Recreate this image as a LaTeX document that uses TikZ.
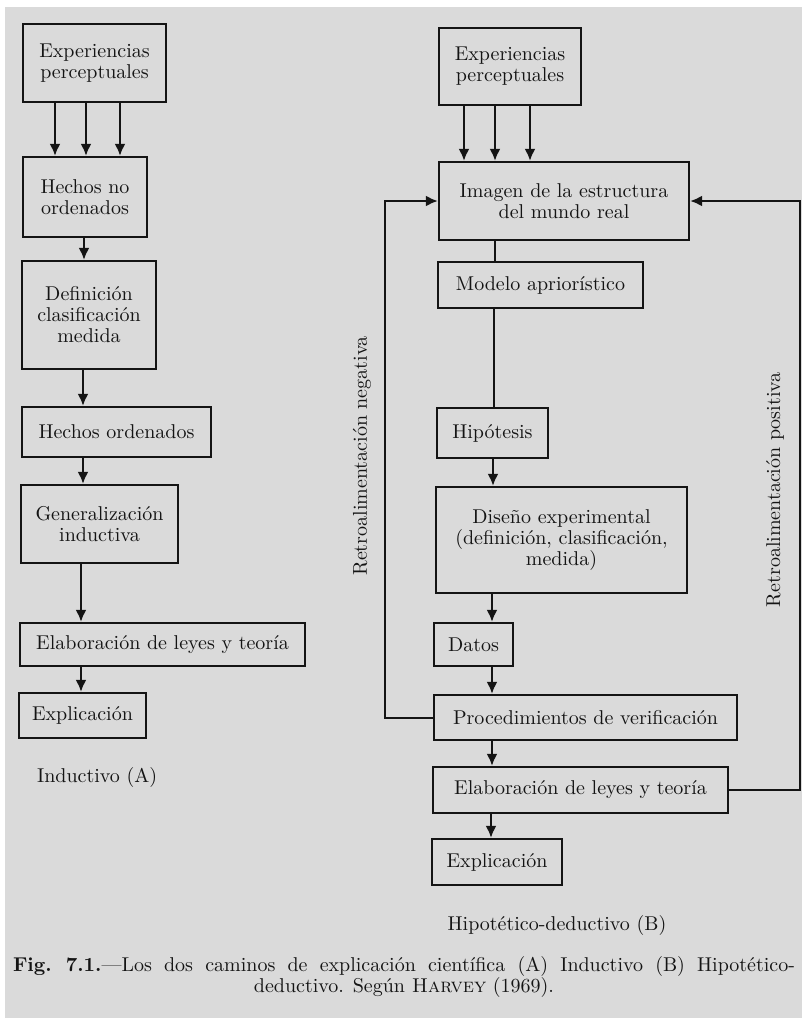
\documentclass[tikz,border=0pt]{standalone}
\usepackage{tikz}
\usetikzlibrary{arrows.meta, calc}
\tikzset{>={Latex[length=6pt,width=5.5pt]}}
\definecolor{papel}{RGB}{218,218,218}
\definecolor{tinta}{RGB}{20,20,20}

\begin{document}
\begin{tikzpicture}[x=0.5pt,y=-0.5pt,
    every node/.style={text=tinta,font=\fontsize{10}{10.5}\selectfont},
    caja/.style={draw=tinta,line width=1.2pt,align=center,inner sep=0pt},
    flecha/.style={->,draw=tinta,line width=1pt},
    linea/.style={draw=tinta,line width=1pt}]
    \useasboundingbox (0,0) rectangle (802,1018);
    \fill[papel] (5,7) rectangle (802,1018);

    % Inductivo (A)
    \node[caja,minimum width=71.5pt,minimum height=39pt] (expA) at (94.5,63) {Experiencias\\perceptuales};
    \node[caja,minimum width=62pt,minimum height=40pt] (hnoA) at (85,197) {Hechos no\\ordenados};
    \node[caja,minimum width=67pt,minimum height=54pt] (defA) at (89,315) {Definición\\clasificación\\medida};
    \node[caja,minimum width=94.5pt,minimum height=25pt] (hordA) at (116.5,432) {Hechos ordenados};
    \node[caja,minimum width=78.5pt,minimum height=39pt] (genA) at (99.5,524) {Generalización\\inductiva};
    \node[caja,minimum width=142.5pt,minimum height=21.5pt] (leyA) at (162.5,644.5) {Elaboración de leyes y teoría};
    \node[caja,minimum width=63.5pt,minimum height=22.5pt] (expliA) at (82.5,715.5) {Explicación};
    \node[anchor=west] (tituloA) at (30,777) {Inductivo (A)};

    \foreach \x in {55,86,120}
        \draw[flecha] (expA.south -| \x,0) -- (hnoA.north -| \x,0);
    \foreach \a/\b/\x in {hnoA/defA/84, defA/hordA/83, hordA/genA/83, genA/leyA/81, leyA/expliA/81}
        \draw[flecha] (\a.south -| \x,0) -- (\b.north -| \x,0);

    % Hipotetico-deductivo (B)
    \node[caja,minimum width=71pt,minimum height=38.5pt] (expB) at (510,66.5) {Experiencias\\perceptuales};
    \node[caja,minimum width=125pt,minimum height=39pt] (imgB) at (564,201) {Imagen de la estructura\\del mundo real};
    \node[caja,minimum width=102.5pt,minimum height=23pt] (modB) at (540.5,285) {Modelo apriorístico};
    \node[caja,minimum width=55.5pt,minimum height=25pt] (hipB) at (492.5,433) {Hipótesis};
    \node[caja,minimum width=125.5pt,minimum height=53pt] (disB) at (561.5,540) {Diseño experimental\\(definición, clasificación,\\medida)};
    \node[caja,minimum width=39.5pt,minimum height=21.5pt] (datB) at (473.5,644.5) {Datos};
    \node[caja,minimum width=151.5pt,minimum height=22.5pt] (verB) at (585.5,717.5) {Procedimientos de verificación};
    \node[caja,minimum width=147.5pt,minimum height=23pt] (leyB) at (580.5,790) {Elaboración de leyes y teoría};
    \node[caja,minimum width=65pt,minimum height=23pt] (expliB) at (497,862) {Explicación};
    \node (tituloB) at (557,925) {Hipotético-deductivo (B)};

    \node[rotate=90] (retroNeg) at (362,456) {Retroalimentación negativa};
    \node[rotate=90] (retroPos) at (775,490) {Retroalimentación positiva};
    \coordinate (esqNeg) at (385,0);
    \coordinate (esqPos) at (800,0);

    \foreach \x in {464,495,530}
        \draw[flecha] (expB.south -| \x,0) -- (imgB.north -| \x,0);
    \draw[linea] (imgB.south -| 495,0) -- (modB.north -| 495,0);
    \draw[linea] (modB.south -| 494,0) -- (hipB.north -| 494,0);
    \foreach \a/\b/\x in {hipB/disB/493, disB/datB/492, datB/verB/492, verB/leyB/492, leyB/expliB/491}
        \draw[flecha] (\a.south -| \x,0) -- (\b.north -| \x,0);
    \draw[flecha] (verB.west) -| (esqNeg |- imgB.west) -- (imgB.west);
    \draw[flecha] (leyB.east) -| (esqPos |- imgB.east) -- (imgB.east);

    % pie de figura
    \node[align=center] (pie) at (404,977)
        {\makebox[391pt][s]{\textbf{Fig.~7.1.}---Los dos caminos de explicación científica (A) Inductivo (B) Hipotético-}\\
         deductivo. Según \textsc{Harvey} (1969).};
\end{tikzpicture}
\end{document}
